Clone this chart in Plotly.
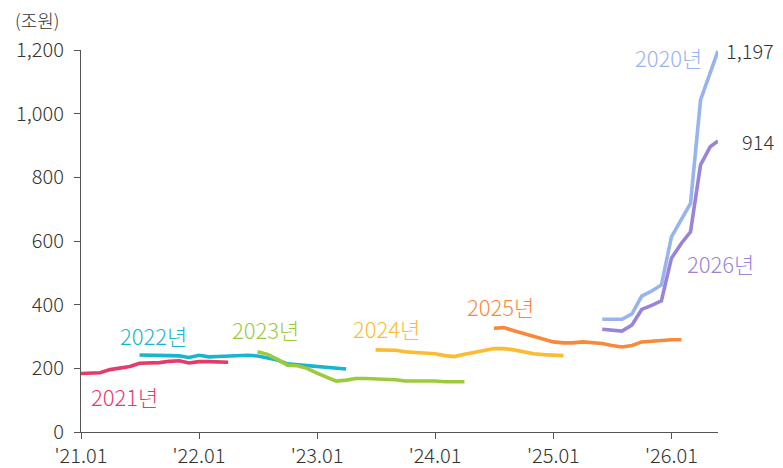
import plotly.graph_objects as go
import pandas as pd

# ---- data (조원), monthly ----
s2021_start = "2021-01"
s2021 = [184, 185, 186, 196, 202, 206, 216, 217, 218, 222, 224, 217, 221, 221, 220, 219]

s2022_start = "2021-07"
s2022 = [242, 242, 242, 240, 239, 234, 241, 236, 237, 238, 240, 241, 239, 233, 226, 214,
         211, 208, 205, 201, 199, 198]

s2023_start = "2022-07"
s2023 = [252, 244, 228, 210, 208, 200, 185, 172, 160, 163, 168, 168, 167, 165, 164, 160,
         160, 161, 160, 158, 158, 158]

s2024_start = "2023-07"
s2024 = [258, 257, 257, 252, 250, 249, 246, 240, 237, 244, 251, 256, 262, 262, 258, 251,
         246, 243, 241, 240]

s2025_start = "2024-07"
s2025 = [326, 328, 318, 310, 300, 292, 283, 280, 280, 283, 281, 278, 272, 267, 272, 283,
         285, 288, 290, 290]

recent_dates = ["2025-06-01", "2025-07-01", "2025-08-01", "2025-09-01", "2025-10-01",
                "2025-11-01", "2025-12-01", "2026-01-01", "2026-02-01", "2026-03-01",
                "2026-04-01", "2026-05-01", "2026-05-25"]
s2020 = [354, 354, 354, 371, 427, 443, 462, 613, 671, 718, 1043, 1125, 1197]
s2026 = [323, 320, 317, 336, 385, 398, 412, 546, 593, 629, 839, 896, 914]

tick_vals = ["2021-01-01", "2022-01-01", "2023-01-01", "2024-01-01", "2025-01-01", "2026-01-01"]
tick_text = ["'21.01", "'22.01", "'23.01", "'24.01", "'25.01", "'26.01"]
y_ticks = [0, 200, 400, 600, 800, 1000, 1200]

FONT = "Noto Sans CJK KR Light, Noto Sans CJK KR, sans-serif"
LABEL_FONT = "Noto Sans CJK KR"


def months(start, n):
    return pd.date_range(start=start, periods=n, freq="MS")


# name, x, y, colour, label x, label y, label x-shift (px)
series = [
    ("2021년", months(s2021_start, len(s2021)), s2021, "#E8396B", "2021-05-15", 113, 0),
    ("2022년", months(s2022_start, len(s2022)), s2022, "#17B6CE", "2021-08-13", 305, 0),
    ("2023년", months(s2023_start, len(s2023)), s2023, "#9BCB3C", "2022-07-25", 324, 0),
    ("2024년", months(s2024_start, len(s2024)), s2024, "#FBBC32", "2023-08-04", 327, 0),
    ("2025년", months(s2025_start, len(s2025)), s2025, "#F78A3A", "2024-07-22", 396, 0),
    ("2020년", pd.to_datetime(recent_dates), s2020, "#98B4EE", "2025-12-22", 1178, 0),
    ("2026년", pd.to_datetime(recent_dates), s2026, "#9A84D8", recent_dates[-1], 531, 2),
]

fig = go.Figure()
for name, x, y, color, lx, ly, sh in series:
    fig.add_trace(go.Scatter(x=x, y=y, mode="lines", name=name,
                             line=dict(color=color, width=3.6),
                             cliponaxis=False, showlegend=False))
    fig.add_annotation(x=lx, y=ly, text=name, showarrow=False, xshift=sh,
                       font=dict(family=LABEL_FONT, size=22, color=color),
                       xanchor="center", yanchor="middle")

# end-value labels (right-aligned)
for vals, dates in ((s2020, recent_dates), (s2026, recent_dates)):
    fig.add_annotation(x=dates[-1], y=vals[-1], text=f"{vals[-1]:,}", showarrow=False,
                       xanchor="right", yanchor="middle", xshift=58,
                       font=dict(family=FONT, size=20, color="#333333", weight=300))

fig.add_annotation(xref="paper", yref="paper", x=-0.069, y=1.078, text="(조원)",
                   showarrow=False, xanchor="center", yanchor="middle",
                   font=dict(family=FONT, size=18, color="#333333", weight=300))

fig.update_layout(
    width=783, height=468,
    margin=dict(l=73, r=73, t=42, b=44),
    paper_bgcolor="white", plot_bgcolor="white",
    font=dict(family=FONT, size=20, color="#333333", weight=300),
)
fig.update_xaxes(type="date", range=["2021-01-01", "2026-05-25"],
                 tickvals=tick_vals, ticktext=tick_text, automargin=False,
                 showline=True, linecolor="#555555", linewidth=1.2,
                 ticks="outside", ticklen=6, tickcolor="#555555",
                 showgrid=False, zeroline=False,
                 tickfont=dict(family=FONT, size=20, color="#333333", weight=300))
fig.update_yaxes(range=[0, 1200], tickvals=y_ticks, automargin=False,
                 ticktext=[f"{v:,}" for v in y_ticks], ticklabelstandoff=6,
                 showline=True, linecolor="#555555", linewidth=1.2,
                 ticks="outside", ticklen=6, tickcolor="#555555",
                 showgrid=False, zeroline=False,
                 tickfont=dict(family=FONT, size=20, color="#333333", weight=300))

fig.write_html("out.html")
